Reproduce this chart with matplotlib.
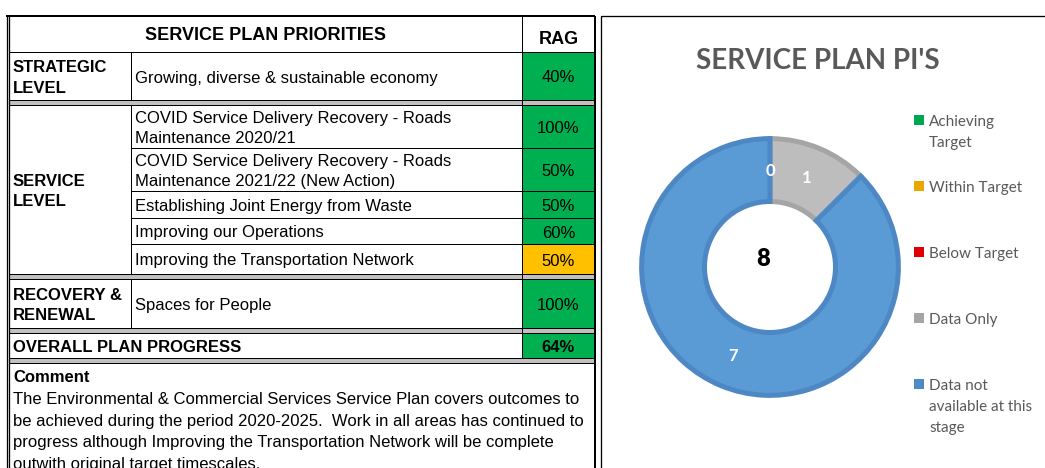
import matplotlib
matplotlib.use("Agg")
import matplotlib.pyplot as plt
from matplotlib.patches import Rectangle

# ---------------- data ----------------
table_title = "SERVICE PLAN PRIORITIES"
rag_header = "RAG"
levels = ["STRATEGIC\nLEVEL", "SERVICE\nLEVEL", "RECOVERY &\nRENEWAL"]
priorities = [
    "Growing, diverse & sustainable economy",
    "COVID Service Delivery Recovery - Roads\nMaintenance 2020/21",
    "COVID Service Delivery Recovery - Roads\nMaintenance 2021/22 (New Action)",
    "Establishing Joint Energy from Waste",
    "Improving our Operations",
    "Improving the Transportation Network",
    "Spaces for People",
]
priority_level = [0, 1, 1, 1, 1, 1, 2]
rag_values = [40, 100, 50, 50, 60, 50, 100]
rag_status = ["G", "G", "G", "G", "G", "A", "G"]
overall_label = "OVERALL PLAN PROGRESS"
overall_progress = 64
comment_title = "Comment"
comment_lines = [
    "The Environmental & Commercial Services Service Plan covers outcomes to",
    "be achieved during the period 2020-2025.  Work in all areas has continued to",
    "progress although Improving the Transportation Network will be complete",
    "outwith original target timescales.",
]
chart_title = "SERVICE PLAN PI'S"
pi_categories = ["Achieving\nTarget", "Within Target", "Below Target",
                 "Data Only", "Data not\navailable at this\nstage"]
pi_counts = [0, 0, 0, 1, 7]

# ---------------- styles / layout ----------------
W, H = 1045, 468
status_colors = {"G": "#00B050", "A": "#FFC000", "R": "#FF0000"}
pi_fill = ["#00B050", "#E8A800", "#FF0000", "#BDBDBD", "#5B9BD5"]
pi_edge = ["#00B050", "#E8A800", "#FF0000", "#A5A5A5", "#4D87C4"]
pi_legend = ["#00A651", "#E8A800", "#E00000", "#A5A5A5", "#4F89C6"]
band_color = "#C0C0C0"
TFONT = "Liberation Sans"
CFONT = "Lato"

x_left, x_div, x_rag, x_right = 9, 131, 522, 595
header_rows = (16, 52)
row_bounds = [(52, 100), (105, 148), (148, 191), (191, 218), (218, 244), (244, 274), (279, 328)]
bands = [(100, 105), (274, 279), (328, 333), (358, 363)]
overall_rows = (333, 358)
px = 0.72  # one pixel in points at dpi 100

fig = plt.figure(figsize=(W / 100, H / 100), dpi=100)
ax = fig.add_axes([0, 0, 1, 1])
ax.set_xlim(0, W)
ax.set_ylim(H, 0)
ax.axis("off")

def hline(y, x0, x1, lw=1):
    ax.plot([x0, x1], [y, y], color="black", lw=lw * px, solid_capstyle="butt")

def vline(x, y0, y1, lw=1):
    ax.plot([x, x], [y0, y1], color="black", lw=lw * px, solid_capstyle="butt")

# gray bands
for b0, b1 in bands:
    ax.add_patch(Rectangle((x_left, b0), x_right - x_left, b1 - b0, color=band_color, lw=0))
    hline(b0, x_left, x_right)
    hline(b1, x_left, x_right)

# RAG cells
for (r0, r1), val, st in zip(row_bounds, rag_values, rag_status):
    ax.add_patch(Rectangle((x_rag, r0), x_right - x_rag, r1 - r0, color=status_colors[st], lw=0))
    ax.text((x_rag + x_right) / 2, (r0 + r1) / 2 + 2, f"{val}%", ha="center", va="center",
            fontsize=12, family=TFONT)
ax.add_patch(Rectangle((x_rag, overall_rows[0]), x_right - x_rag, overall_rows[1] - overall_rows[0],
                       color=status_colors["G"], lw=0))
ax.text((x_rag + x_right) / 2, sum(overall_rows) / 2 + 2, f"{overall_progress}%", ha="center",
        va="center", fontsize=12, family=TFONT, fontweight="bold")

# priority rows
for i, ((r0, r1), txt) in enumerate(zip(row_bounds, priorities)):
    ax.text(x_div + 4, (r0 + r1) / 2 + 2, txt, ha="left", va="center", fontsize=12,
            family=TFONT, linespacing=1.45)
    hline(r1, x_div, x_right)
    hline(r0, x_div, x_right)

# levels (merged cells)
for li, lab in enumerate(levels):
    rows = [row_bounds[i] for i in range(len(priorities)) if priority_level[i] == li]
    y0 = rows[0][0]
    y1 = rows[-1][1]
    ax.text(x_left + 4, (y0 + y1) / 2 + 2, lab, ha="left", va="center", fontsize=12,
            family=TFONT, fontweight="bold", linespacing=1.5)
    vline(x_div, y0, y1)

# header
ax.text((x_left + x_rag) / 2, 35, table_title, ha="center", va="center", fontsize=13,
        family=TFONT, fontweight="bold")
ax.text((x_rag + x_right) / 2, 40, rag_header, ha="center", va="center", fontsize=13,
        family=TFONT, fontweight="bold")
hline(header_rows[0], x_left - 3, x_right, 2)
hline(header_rows[1], x_left, x_right)
vline(x_rag, header_rows[0], overall_rows[1])

# overall
ax.text(x_left + 4, sum(overall_rows) / 2 + 2, overall_label, ha="left", va="center",
        fontsize=12, family=TFONT, fontweight="bold")

# comment
ax.text(x_left + 4, 378, comment_title, ha="left", va="center", fontsize=12, family=TFONT,
        fontweight="bold")
for k, line in enumerate(comment_lines):
    ax.text(x_left + 4, 400 + k * 21.4, line, ha="left", va="center", fontsize=12, family=TFONT)

# outer table borders (double on the left)
vline(x_left, header_rows[0], H + 5, 1.3)
vline(x_left - 2.5, header_rows[0], H + 5, 1.3)
vline(x_right, header_rows[0], H + 5, 2)

# ---------------- chart panel ----------------
ax.add_patch(Rectangle((601, 16), 500, 500, fill=False, edgecolor="black", lw=1.3 * px))
ax.text(818, 61, chart_title, ha="center", va="center", fontsize=20, family=CFONT,
        fontweight="bold", color="#595959")

# legend
for i, (lab, col) in enumerate(zip(pi_categories, pi_legend)):
    y = 120 + i * 66
    ax.add_patch(Rectangle((914, y - 5), 10, 10, color=col, lw=0))
    ax.text(929, y - 5, lab, ha="left", va="top", fontsize=11, family=CFONT, color="#595959",
            linespacing=1.62)

# donut
cx, cy, R = 770, 267, 131
dax = fig.add_axes([(cx - R) / W, 1 - (cy + R) / H, 2 * R / W, 2 * R / H])
total = sum(pi_counts)
wedges, texts, autotexts = dax.pie(
    pi_counts, radius=0.98, startangle=90, counterclock=False,
    colors=pi_fill, wedgeprops=dict(width=0.48, linewidth=5 * px),
    autopct=lambda p: f"{p * total / 100:.0f}", pctdistance=0.75,
    textprops=dict(color="white", fontsize=12, fontweight="bold", family=CFONT))
dax.set_xlim(-1, 1)
dax.set_ylim(-1, 1)
dax.axis("off")
seen = set()
for w, c, e, t in zip(wedges, pi_counts, pi_edge, autotexts):
    w.set_edgecolor(e)
    if c == 0:
        w.set_linewidth(0)
    if t.get_text() in seen:
        t.set_visible(False)
    seen.add(t.get_text())
dax.text(-0.05, 0.06, f"{total}", ha="center", va="center", fontsize=17, fontweight="heavy",
         family=CFONT, color="black")

fig.savefig("out.png", dpi=100)
